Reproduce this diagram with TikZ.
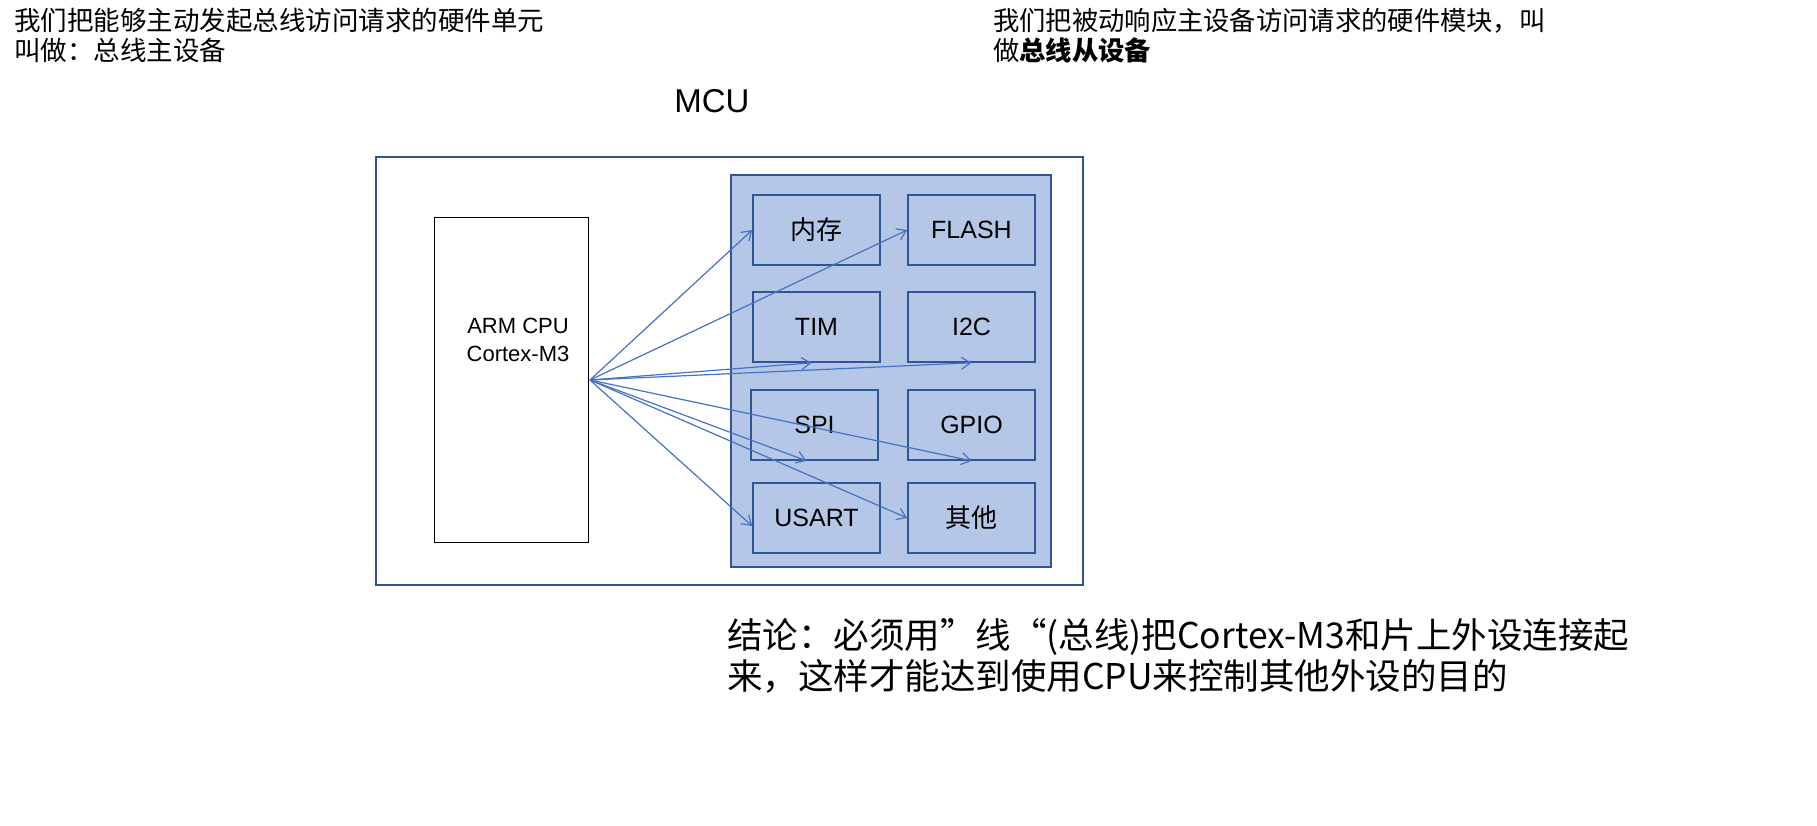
\documentclass[tikz,border=0pt]{standalone}
\usepackage{fontspec}
\setmainfont{Liberation Sans}
\newfontfamily\cjk{Noto Sans CJK SC}
\usetikzlibrary{arrows.meta}
\definecolor{mcublue}{HTML}{2F5597}
\definecolor{linkblue}{HTML}{4472C4}
\definecolor{perifill}{HTML}{B4C7E7}
\tikzset{
  unit/.style={draw=mcublue, line width=1.6pt, minimum width=127pt, minimum height=70pt, inner sep=0pt, font=\fontsize{25}{28}\selectfont},
  link/.style={draw=linkblue, line width=1.2pt, -{Straight Barb[length=9pt,width=12pt]}},
}
\begin{document}
\begin{tikzpicture}[x=1pt, y=-1pt]
	\useasboundingbox (0,0) rectangle (1817,826);

	% top notes
	\node[anchor=north west, align=left, inner sep=0pt, font=\cjk\fontsize{26.5}{30}\selectfont] (master) at (14,8)
		{我们把能够主动发起总线访问请求的硬件单元\\叫做：总线主设备};
	\node[anchor=north west, align=left, inner sep=0pt, font=\cjk\fontsize{26.3}{30}\selectfont] (slave) at (993,8)
		{我们把被动响应主设备访问请求的硬件模块，叫\\做\textbf{总线从设备}};

	% MCU frame
	\node[font=\fontsize{33}{36}\selectfont] (mcu) at (712,101) {MCU};
	\draw[mcublue, line width=1.6pt] (376,157) rectangle (1083,585);
	\draw[mcublue, line width=1.6pt, fill=perifill] (731,175) rectangle (1051,567);

	% CPU
	\node[draw, line width=1pt, minimum width=154pt, minimum height=324pt, inner sep=0pt] (cpu) at (511,380) {};
	\node[align=center, font=\fontsize{22}{28}\selectfont] (cpulabel) at (518,340) {ARM CPU\\Cortex-M3};
	\coordinate (bus) at (590,380);

	% peripherals
	\node[unit, font=\cjk\fontsize{26}{28}\selectfont] (mem) at (816.5,230) {内存};
	\node[unit] (flash) at (971.5,230) {FLASH};
	\node[unit] (tim) at (816.5,327) {TIM};
	\node[unit] (iic) at (971.5,327) {I2C};
	\node[unit] (spi) at (814.5,425) {SPI};
	\node[unit] (gpio) at (971.5,425) {GPIO};
	\node[unit] (usart) at (816.5,518) {USART};
	\node[unit, font=\cjk\fontsize{26}{28}\selectfont] (other) at (971.5,518) {其他};

	% bus links
	\draw[link] (bus) -- (mem.west);
	\draw[link] (bus) -- (flash.west);
	\draw[link] (bus) -- ([xshift=-5pt]tim.south);
	\draw[link] (bus) -- (iic.south);
	\draw[link] (bus) -- ([xshift=-8pt]spi.south);
	\draw[link] (bus) -- (gpio.south);
	\draw[link] (bus) -- (other.west);
	\draw[link] (bus) -- ([yshift=-8pt]usart.west);

	% conclusion
	\node[anchor=north west, align=left, inner sep=0pt, font=\cjk\fontsize{35.5}{41}\selectfont] (result) at (727,618)
		{结论：必须用”线“(总线)把Cortex-M3和片上外设连接起\\来，这样才能达到使用CPU来控制其他外设的目的};
\end{tikzpicture}
\end{document}
